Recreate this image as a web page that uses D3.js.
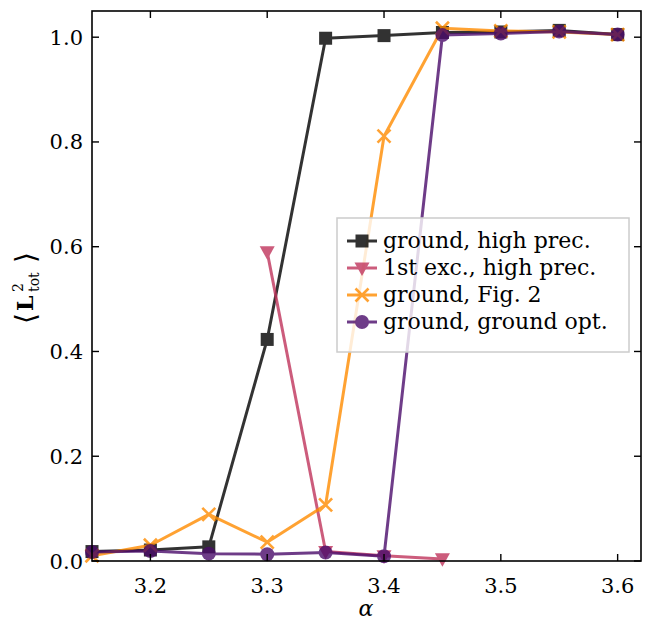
<!DOCTYPE html>
<html><head><meta charset="utf-8">
<script src="https://cdn.jsdelivr.net/npm/d3@7"></script>
<style>body{margin:0;background:#fff}svg{display:block}</style>
</head><body><svg id="c" width="652" height="623"></svg>
<script>
const alphas = [3.15, 3.2, 3.25, 3.3, 3.35, 3.4, 3.45, 3.5, 3.55, 3.6];
const groundHigh = [0.018, 0.021, 0.027, 0.423, 0.998, 1.003, 1.009, 1.010, 1.013, 1.005];
const excAlphas = [3.3, 3.35, 3.4, 3.45];
const excHigh = [0.590, 0.018, 0.010, 0.004];
const groundFig2 = [0.010, 0.030, 0.089, 0.036, 0.107, 0.811, 1.017, 1.012, 1.010, 1.005];
const groundOpt = [0.017, 0.019, 0.014, 0.013, 0.016, 0.009, 1.004, 1.007, 1.011, 1.005];
const xTicks = [3.2, 3.3, 3.4, 3.5, 3.6];
const yTicks = [0.0, 0.2, 0.4, 0.6, 0.8, 1.0];
const seriesNames = ["ground, high prec.", "1st exc., high prec.", "ground, Fig. 2", "ground, ground opt."];

const svg = d3.select("#c");
const L = 92, R = 641, T = 11, B = 561;
const x = d3.scaleLinear().domain([3.15, 3.62]).range([L, R]);
const y = d3.scaleLinear().domain([0, 1.05]).range([B, T]);
const font = "DejaVu Serif";

const series = [
  {name: seriesNames[0], xs: alphas, ys: groundHigh, color: "#000000", marker: "square"},
  {name: seriesNames[1], xs: excAlphas, ys: excHigh, color: "#c0345c", marker: "tri"},
  {name: seriesNames[2], xs: alphas, ys: groundFig2, color: "#ff8c00", marker: "x"},
  {name: seriesNames[3], xs: alphas, ys: groundOpt, color: "#4b0c6b", marker: "circle"}
];

function drawMarker(g, type, cx, cy, color) {
  if (type === "square") {
    g.append("rect").attr("x", cx - 6.5).attr("y", cy - 6.5).attr("width", 13).attr("height", 13).attr("fill", color);
  } else if (type === "circle") {
    g.append("circle").attr("cx", cx).attr("cy", cy).attr("r", 7).attr("fill", color);
  } else if (type === "tri") {
    const h = 7.5;
    g.append("path").attr("d", `M${cx-h},${cy-h*0.75}L${cx+h},${cy-h*0.75}L${cx},${cy+h*1.05}Z`).attr("fill", color);
  } else if (type === "x") {
    const h = 6.5;
    g.append("path").attr("d", `M${cx-h},${cy-h}L${cx+h},${cy+h}M${cx-h},${cy+h}L${cx+h},${cy-h}`).attr("stroke", color).attr("stroke-width", 2.6).attr("fill", "none");
  }
}

const plot = svg.append("g");
series.forEach(s => {
  const g = plot.append("g").attr("opacity", 0.8);
  const line = d3.line().x((d, i) => x(s.xs[i])).y(d => y(d));
  g.append("path").datum(s.ys).attr("d", line).attr("fill", "none").attr("stroke", s.color).attr("stroke-width", 3).attr("stroke-linejoin", "round");
  s.ys.forEach((v, i) => drawMarker(g, s.marker, x(s.xs[i]), y(v), s.color));
});

// frame
svg.append("rect").attr("x", L).attr("y", T).attr("width", R-L).attr("height", B-T).attr("fill", "none").attr("stroke", "#000").attr("stroke-width", 1.6);

// ticks (inward, all sides)
const tk = 7;
xTicks.forEach(t => {
  svg.append("line").attr("x1", x(t)).attr("x2", x(t)).attr("y1", B).attr("y2", B - tk).attr("stroke", "#000").attr("stroke-width", 1.4);
  svg.append("line").attr("x1", x(t)).attr("x2", x(t)).attr("y1", T).attr("y2", T + tk).attr("stroke", "#000").attr("stroke-width", 1.4);
  svg.append("text").attr("x", x(t)).attr("y", 593).attr("text-anchor", "middle").style("font-family", font).attr("font-size", 21).text(d3.format(".1f")(t));
});
yTicks.forEach(t => {
  svg.append("line").attr("x1", L).attr("x2", L + tk).attr("y1", y(t)).attr("y2", y(t)).attr("stroke", "#000").attr("stroke-width", 1.4);
  svg.append("line").attr("x1", R).attr("x2", R - tk).attr("y1", y(t)).attr("y2", y(t)).attr("stroke", "#000").attr("stroke-width", 1.4);
  svg.append("text").attr("x", 83).attr("y", y(t) + 7.5).attr("text-anchor", "end").style("font-family", font).attr("font-size", 21).text(d3.format(".1f")(t));
});

// axis labels
svg.append("text").attr("x", 366).attr("y", 616).attr("text-anchor", "middle").style("font-family", font).attr("font-style", "italic").attr("font-size", 22).text("α");
const yl = svg.append("g").attr("transform", "translate(33,285) rotate(-90)");
yl.append("text").attr("x", -39).attr("y", 2).style("font-family", font).attr("font-size", 28).text("⟨");
yl.append("text").attr("x", -26).attr("y", 0).style("font-family", font).attr("font-size", 22).attr("font-weight", "bold").text("L");
yl.append("text").attr("x", -7).attr("y", -10).style("font-family", font).attr("font-size", 14).text("2");
yl.append("text").attr("x", -7).attr("y", 6).style("font-family", font).attr("font-size", 14).text("tot");
yl.append("text").attr("x", 22).attr("y", 2).style("font-family", font).attr("font-size", 28).text("⟩");

// legend
const lg = svg.append("g");
lg.append("rect").attr("x", 337).attr("y", 218).attr("width", 292).attr("height", 134).attr("fill", "#fff").attr("fill-opacity", 0.8).attr("stroke", "#cccccc").attr("stroke-width", 1.5);
series.forEach((s, i) => {
  const cy = 241 + i * 27;
  const g = lg.append("g").attr("opacity", 0.8);
  g.append("line").attr("x1", 347).attr("x2", 377).attr("y1", cy).attr("y2", cy).attr("stroke", s.color).attr("stroke-width", 3);
  drawMarker(g, s.marker, 362, cy, s.color);
  lg.append("text").attr("x", 383).attr("y", cy + 7).style("font-family", font).attr("font-size", 22).text(s.name);
});
</script></body></html>
